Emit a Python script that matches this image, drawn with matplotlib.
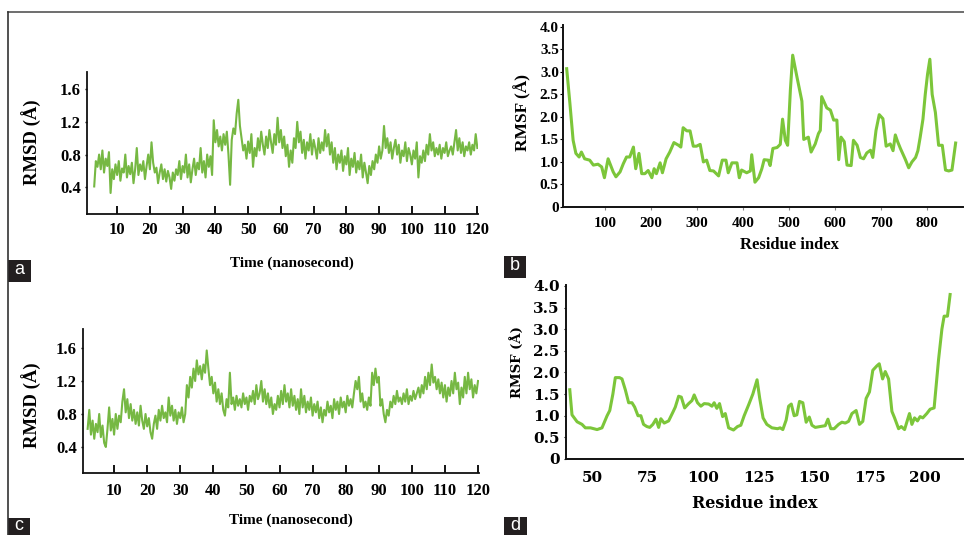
import numpy as np
import matplotlib
matplotlib.use("Agg")
import matplotlib.pyplot as plt
from matplotlib.lines import Line2D
from matplotlib.patches import Rectangle

# ---------------- data ----------------
# Panel a: RMSD vs time (ns), sampled every 0.5 ns from 3 to 120
time_a = np.linspace(3.0, 120.0, 235)
rmsd_a = [
    0.41, 0.72, 0.65, 0.80, 0.62, 0.85, 0.58, 0.75, 0.66, 0.83,
    0.33, 0.62, 0.50, 0.68, 0.55, 0.72, 0.48, 0.63, 0.58, 0.80,
    0.52, 0.66, 0.56, 0.70, 0.45, 0.62, 0.88, 0.55, 0.68, 0.60,
    0.72, 0.50, 0.66, 0.80, 0.62, 0.95, 0.70, 0.58, 0.64, 0.45,
    0.58, 0.68, 0.50, 0.62, 0.47, 0.60, 0.52, 0.38, 0.58, 0.48,
    0.62, 0.55, 0.72, 0.50, 0.66, 0.58, 0.80, 0.52, 0.68, 0.46,
    0.62, 0.75, 0.55, 0.70, 0.62, 0.88, 0.58, 0.72, 0.52, 0.80,
    0.65, 0.78, 0.55, 1.22, 0.95, 1.10, 0.90, 1.02, 0.85, 1.05,
    0.92, 1.08, 0.80, 0.43, 0.98, 1.12, 1.05, 1.30, 1.47, 1.15,
    1.00, 0.85, 0.92, 0.75, 0.96, 0.82, 1.05, 0.65, 0.88, 0.78,
    1.00, 0.85, 1.08, 0.92, 0.80, 1.02, 0.88, 1.10, 0.95, 0.82,
    1.05, 0.92, 1.25, 0.95, 1.10, 0.88, 1.02, 0.78, 0.92, 0.65,
    0.85, 0.70, 1.00, 0.88, 1.20, 0.95, 1.08, 0.82, 0.98, 0.75,
    0.95, 0.85, 1.05, 0.80, 0.98, 0.88, 0.75, 1.00, 0.82, 0.95,
    0.85, 1.10, 0.90, 1.05, 0.80, 0.95, 0.70, 0.88, 0.62, 0.80,
    0.70, 0.85, 0.60, 0.78, 0.68, 0.88, 0.55, 0.75, 0.65, 0.82,
    0.58, 0.72, 0.62, 0.80, 0.52, 0.70, 0.58, 0.45, 0.66, 0.55,
    0.72, 0.62, 0.80, 0.70, 0.90, 0.75, 0.85, 1.15, 0.88, 1.00,
    0.82, 0.95, 0.75, 0.88, 0.98, 0.80, 0.92, 0.70, 0.85, 0.78,
    0.95, 0.72, 0.88, 0.80, 0.68, 0.85, 0.75, 0.95, 0.52, 0.78,
    0.70, 0.85, 0.72, 0.92, 0.80, 1.05, 0.85, 0.95, 0.78, 0.88,
    0.80, 0.92, 0.75, 0.88, 0.82, 0.95, 0.78, 0.85, 0.90, 0.80,
    0.95, 1.10, 0.85, 1.00, 0.82, 0.95, 0.78, 0.90, 0.85, 0.95,
    0.80, 0.92, 0.85, 1.05, 0.88,
]

# Panel c: RMSD vs time (ns), sampled every 0.5 ns from 2 to 120
time_c = np.linspace(2.0, 120.0, 237)
rmsd_c = [
    0.62, 0.85, 0.55, 0.72, 0.50, 0.68, 0.58, 0.80, 0.52, 0.66,
    0.45, 0.40, 0.62, 0.88, 0.60, 0.74, 0.55, 0.80, 0.62, 0.78,
    0.70, 0.95, 1.10, 0.82, 0.98, 0.75, 0.92, 0.72, 0.85, 0.68,
    0.82, 0.66, 0.90, 0.72, 0.62, 0.80, 0.65, 0.75, 0.58, 0.50,
    0.68, 0.78, 0.62, 0.85, 0.72, 0.90, 0.75, 0.82, 0.70, 1.00,
    0.78, 0.90, 0.72, 0.85, 0.68, 0.82, 0.75, 0.88, 0.70, 0.80,
    1.15, 1.00, 1.25, 1.12, 1.35, 1.20, 1.45, 1.28, 1.38, 1.22,
    1.40, 1.30, 1.57, 1.35, 1.15, 1.25, 1.05, 1.18, 0.95, 1.10,
    0.92, 1.05, 0.85, 0.78, 0.98, 0.88, 1.30, 0.92, 1.00, 0.85,
    1.02, 0.90, 0.98, 0.88, 1.05, 0.92, 1.00, 0.85, 1.02, 0.95,
    1.08, 0.92, 1.15, 0.98, 1.05, 1.20, 0.95, 1.10, 0.92, 1.05,
    0.88, 1.00, 0.80, 0.92, 0.85, 1.02, 0.88, 1.08, 0.92, 1.15,
    0.95, 1.05, 0.88, 1.10, 0.90, 1.02, 0.85, 0.98, 0.80, 1.10,
    0.88, 1.02, 0.82, 0.95, 0.85, 1.00, 0.78, 0.92, 0.82, 0.95,
    0.75, 0.88, 0.70, 0.85, 0.78, 0.95, 0.82, 0.90, 0.75, 0.98,
    0.85, 0.95, 0.80, 1.00, 0.88, 0.95, 0.82, 1.02, 0.90, 0.98,
    0.88, 1.05, 1.20, 1.10, 1.25, 0.95, 1.05, 0.88, 0.95, 0.85,
    1.00, 0.90, 1.30, 1.15, 1.35, 1.18, 1.25, 0.90, 0.98, 0.80,
    0.70, 0.85, 0.78, 0.95, 0.88, 1.02, 0.92, 1.08, 0.95, 1.00,
    0.92, 1.05, 0.95, 1.10, 0.92, 1.02, 0.96, 1.08, 0.98, 1.05,
    1.12, 1.00, 1.15, 1.05, 1.25, 1.10, 1.30, 1.15, 1.40, 1.18,
    1.25, 1.10, 1.22, 1.05, 1.18, 1.00, 1.15, 0.95, 1.12, 1.02,
    1.20, 1.05, 1.30, 1.10, 1.18, 0.92, 1.12, 1.00, 1.25, 1.05,
    1.30, 1.10, 1.22, 1.00, 1.15, 1.05, 1.20,
]

# Panel b: RMSF per residue
residue_b = [
    17, 24, 31, 37, 44, 49, 56, 67, 75, 85, 93, 99, 107, 118, 124, 133, 140,
    147, 154, 162, 167, 174, 180, 187, 194, 202, 207, 212, 220, 225, 233, 241,
    250, 260, 265, 270, 278, 285, 292, 299, 307, 314, 321, 328, 336, 347, 355,
    363, 368, 376, 387, 392, 397, 408, 416, 419, 426, 434, 441, 446, 455, 459,
    465, 474, 481, 486, 492, 497, 503, 508, 517, 528, 532, 542, 548, 557, 564,
    568, 571, 582, 590, 597, 604, 608, 613, 620, 626, 635, 640, 648, 655, 662,
    669, 677, 682, 689, 696, 704, 711, 720, 726, 731, 736, 742, 753, 760, 767,
    775, 780, 785, 791, 796, 801, 806, 811, 818, 825, 833, 840, 847, 854, 862,
]
rmsf_b = [
    3.07, 2.30, 1.48, 1.19, 1.11, 1.22, 1.07, 1.04, 0.93, 0.95, 0.89, 0.65, 1.07,
    0.78, 0.67, 0.78, 0.96, 1.11, 1.11, 1.33, 0.85, 1.19, 0.74, 0.74, 0.81, 0.65,
    0.85, 0.74, 0.98, 0.76, 1.07, 1.22, 1.43, 1.37, 1.33, 1.76, 1.69, 1.69, 1.35,
    1.35, 1.39, 1.00, 1.04, 0.81, 0.80, 0.69, 1.04, 1.04, 0.76, 0.98, 0.98, 0.65,
    0.82, 0.76, 0.80, 1.16, 0.55, 0.65, 0.85, 1.05, 1.04, 0.92, 1.30, 1.32, 1.39,
    1.95, 1.48, 1.37, 2.60, 3.37, 2.90, 2.35, 1.50, 1.55, 1.22, 1.40, 1.63, 1.70,
    2.45, 2.20, 2.15, 1.93, 1.93, 1.05, 1.55, 1.45, 0.93, 0.92, 1.48, 1.37, 1.10,
    1.07, 1.20, 1.26, 1.10, 1.70, 2.05, 1.96, 1.35, 1.40, 1.25, 1.60, 1.45, 1.30,
    1.05, 0.87, 1.00, 1.10, 1.25, 1.55, 1.95, 2.50, 2.95, 3.28, 2.50, 2.10, 1.37,
    1.37, 0.82, 0.80, 0.82, 1.42,
]

# Panel d: RMSF per residue
residue_d = [
    40.0, 41.0, 43.3, 45.5, 47.0, 49.3, 52.3, 54.5, 56.8, 58.0, 59.4, 60.5, 62.4,
    63.5, 65.0, 66.5, 68.0, 69.2, 70.7, 72.0, 73.2, 74.7, 76.0, 77.4, 78.8, 80.0,
    81.0, 82.5, 84.5, 86.4, 87.5, 89.0, 90.2, 91.7, 93.5, 95.0, 96.0, 97.5, 99.0,
    100.5, 102.5, 104.0, 105.0, 106.2, 107.4, 108.8, 110.0, 111.5, 113.7, 115.5,
    117.0, 118.5, 120.5, 122.4, 124.3, 125.5, 127.0, 128.7, 131.0, 133.5, 134.7,
    135.9, 137.4, 138.5, 139.7, 141.0, 142.2, 143.4, 144.9, 146.4, 147.8, 149.0,
    150.5, 152.7, 155.0, 156.2, 157.5, 159.0, 161.0, 162.5, 164.0, 165.5, 167.0,
    168.9, 170.4, 171.9, 173.4, 174.9, 176.4, 178.2, 179.3, 180.8, 182.0, 183.5,
    185.0, 186.2, 188.0, 189.2, 190.7, 191.7, 192.9, 194.0, 195.2, 196.5, 197.7,
    198.9, 200.7, 202.2, 204.0, 206.0, 207.5, 208.5, 210.0, 211.2,
]
rmsf_d = [
    1.60, 1.02, 0.86, 0.80, 0.72, 0.72, 0.68, 0.72, 1.00, 1.12, 1.50,
    1.88, 1.88, 1.85, 1.60, 1.30, 1.30, 1.20, 1.00, 1.00, 0.80, 0.75, 0.73, 0.80,
    0.92, 0.73, 0.93, 0.83, 0.88, 1.08, 1.20, 1.45, 1.43, 1.18, 1.28, 1.35, 1.48,
    1.30, 1.22, 1.28, 1.27, 1.22, 1.30, 1.17, 1.28, 0.98, 1.05, 0.72, 0.67, 0.75,
    0.78, 1.00, 1.25, 1.50, 1.83, 1.40, 0.95, 0.80, 0.72, 0.70, 0.72, 0.68, 0.90,
    1.22, 1.27, 1.00, 1.02, 1.33, 1.30, 0.85, 0.97, 0.78, 0.73, 0.75, 0.77, 0.92,
    0.70, 0.70, 0.80, 0.85, 0.83, 0.87, 1.05, 1.12, 0.80, 0.87, 1.40, 1.55, 2.05,
    2.15, 2.20, 1.85, 2.02, 1.85, 1.10, 0.95, 0.70, 0.75, 0.68, 0.85, 1.05, 0.80,
    0.95, 0.88, 0.98, 0.95, 1.05, 1.15, 1.18, 2.30, 3.00, 3.30, 3.30, 3.80,
]

time_ticks = [10, 20, 30, 40, 50, 60, 70, 80, 90, 100, 110, 120]
rmsd_ticks = [0.4, 0.8, 1.2, 1.6]
rmsf_ticks = [0, 0.5, 1.0, 1.5, 2.0, 2.5, 3.0, 3.5, 4.0]
rmsf_ticklabels = ["0", "0.5", "1.0", "1.5", "2.0", "2.5", "3.0", "3.5", "4.0"]
res_ticks_b = [100, 200, 300, 400, 500, 600, 700, 800]
res_ticks_d = [50, 75, 100, 125, 150, 175, 200]
panel_letters = ["a", "b", "c", "d"]

# ---------------- figure ----------------
W, H = 964, 535
fig = plt.figure(figsize=(W / 100, H / 100), dpi=100)
fig.patch.set_facecolor("white")

SERIF = "Liberation Serif"
WIDE = "DejaVu Serif"
GREEN_T = "#76b843"
GREEN_R = "#7cc63a"


def px_axes(l, t, r, b):
    return fig.add_axes([l / W, 1 - b / H, (r - l) / W, (b - t) / H])


def style(ax, lw=1.3):
    for s in ("top", "right"):
        ax.spines[s].set_visible(False)
    for s in ("left", "bottom"):
        ax.spines[s].set_linewidth(lw)
        ax.spines[s].set_color("#111111")


def ftext(x, y, s, **kw):
    fig.text(x / W, 1 - y / H, s, **kw)


# Panel a
ax = px_axes(87, 72, 478, 214)
ax.plot(time_a, rmsd_a, color=GREEN_T, lw=1.5)
ax.set_xlim(0.8, 120.2)
ax.set_ylim(0.073, 1.81)
ax.set_xticks(time_ticks)
ax.set_xticklabels([str(v) for v in time_ticks], fontfamily=SERIF, fontweight="bold", fontsize=12)
ax.set_yticks(rmsd_ticks)
ax.set_yticklabels([f"{v:.1f}" for v in rmsd_ticks], fontfamily=SERIF, fontweight="bold", fontsize=12)
ax.tick_params(axis="x", direction="in", length=6, width=1.3, pad=6)
ax.tick_params(axis="y", direction="out", length=1.5, width=1.0, pad=3)
style(ax)
ftext(32, 142, "RMSD (Å)", rotation=90, ha="center", va="center", fontfamily=SERIF, fontweight="bold", fontsize=13.5)
ftext(292, 263, "Time (nanosecond)", ha="center", va="center", fontfamily=SERIF, fontweight="bold", fontsize=11)

# Panel c
ax = px_axes(83, 329, 479, 473)
ax.plot(time_c, rmsd_c, color=GREEN_T, lw=1.5)
ax.set_xlim(0.6, 120.3)
ax.set_ylim(0.085, 1.83)
ax.set_xticks(time_ticks)
ax.set_xticklabels([str(v) for v in time_ticks], fontfamily=SERIF, fontweight="bold", fontsize=12)
ax.set_yticks(rmsd_ticks)
ax.set_yticklabels([f"{v:.1f}" for v in rmsd_ticks], fontfamily=SERIF, fontweight="bold", fontsize=12)
ax.tick_params(axis="x", direction="in", length=6, width=1.3, pad=7)
ax.tick_params(axis="y", direction="out", length=1.5, width=1.0, pad=3)
style(ax)
ftext(32, 405, "RMSD (Å)", rotation=90, ha="center", va="center", fontfamily=SERIF, fontweight="bold", fontsize=13.5)
ftext(291, 520, "Time (nanosecond)", ha="center", va="center", fontfamily=SERIF, fontweight="bold", fontsize=11)

# Panel b
ax = px_axes(563, 25, 963, 207)
ax.plot(residue_b, rmsf_b, color=GREEN_R, lw=2.2)
ax.set_xlim(9, 878)
ax.set_ylim(0, 4.04)
ax.set_xticks(res_ticks_b)
ax.set_xticklabels([str(v) for v in res_ticks_b], fontfamily=SERIF, fontweight="bold", fontsize=11)
ax.set_yticks(rmsf_ticks)
ax.set_yticklabels(rmsf_ticklabels, fontfamily=SERIF, fontweight="bold", fontsize=11)
ax.tick_params(axis="x", direction="out", length=2, width=0.8, pad=5, color="#888888")
ax.tick_params(axis="y", direction="out", length=2, width=0.8, pad=1)
style(ax, lw=1.4)
ftext(523, 112, "RMSF (Å)", rotation=90, ha="center", va="center", fontfamily=SERIF, fontweight="bold", fontsize=12.5)
ftext(789, 245, "Residue index", ha="center", va="center", fontfamily=SERIF, fontweight="bold", fontsize=12)

# Panel d
ax = px_axes(566, 285, 963, 459)
ax.plot(residue_d, rmsf_d, color=GREEN_R, lw=2.2)
ax.set_xlim(38.3, 217)
ax.set_ylim(0, 4.02)
ax.set_xticks(res_ticks_d)
ax.set_xticklabels([str(v) for v in res_ticks_d], fontfamily=WIDE, fontweight="bold", fontsize=11)
ax.set_yticks(rmsf_ticks)
ax.set_yticklabels(rmsf_ticklabels, fontfamily=WIDE, fontweight="bold", fontsize=11)
ax.tick_params(axis="x", direction="out", length=0, pad=9)
ax.tick_params(axis="y", direction="out", length=1.5, width=0.8, pad=3)
style(ax, lw=1.4)
ftext(517, 362, "RMSF (Å)", rotation=90, ha="center", va="center", fontfamily=WIDE, fontweight="bold", fontsize=9.5)
ftext(755, 503, "Residue index", ha="center", va="center", fontfamily=WIDE, fontweight="bold", fontsize=11.5)

# Frame lines
fig.add_artist(Line2D([8 / W, 1.0], [1 - 12 / H, 1 - 12 / H], color="#555555", lw=1.2))
fig.add_artist(Line2D([8 / W, 8 / W], [0, 1 - 12 / H], color="#333333", lw=1.2))

# Panel letter boxes (box x, y, w, h in px; letter centre y in px)
boxes = [(8, 260, 23, 22, 270), (504, 256, 22, 22, 266), (8, 518, 22, 17, 526), (504, 517, 23, 18, 525)]
for (x, y, w, h, ty), letter in zip(boxes, panel_letters):
    fig.add_artist(Rectangle((x / W, 1 - (y + h) / H), w / W, h / H, transform=fig.transFigure,
                             facecolor="#231f20", edgecolor="none"))
    ftext(x + w / 2, ty, letter, ha="center", va="center", color="white",
          fontfamily="Liberation Sans", fontsize=13)

fig.savefig("out.png", dpi=100, facecolor="white")
